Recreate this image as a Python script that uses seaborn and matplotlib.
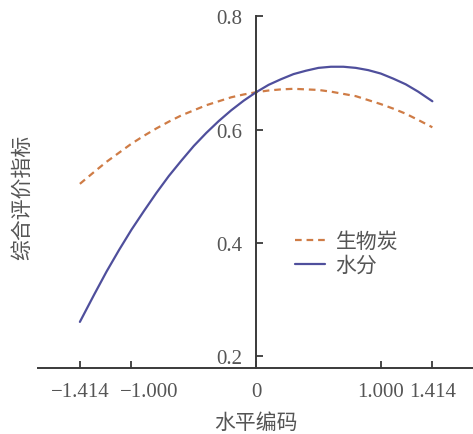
import pandas as pd
import seaborn as sns
import matplotlib.pyplot as plt
import matplotlib.transforms as mtransforms

# values
codes = [-1.414, -1.3, -1.2, -1.1, -1.0, -0.9, -0.8, -0.7, -0.6, -0.5, -0.4, -0.3, -0.2, -0.1, 0.0,
         0.1, 0.2, 0.3, 0.4, 0.5, 0.6, 0.7, 0.8, 0.9, 1.0, 1.1, 1.2, 1.3, 1.414]
biochar = [0.504, 0.525, 0.543, 0.559, 0.575, 0.589, 0.602, 0.614, 0.625, 0.634, 0.643, 0.650, 0.657, 0.662, 0.666,
           0.669, 0.671, 0.672, 0.671, 0.670, 0.667, 0.663, 0.659, 0.652, 0.645, 0.637, 0.628, 0.617, 0.604]
water = [0.260, 0.308, 0.349, 0.387, 0.423, 0.456, 0.488, 0.518, 0.545, 0.571, 0.594, 0.615, 0.634, 0.651, 0.666,
         0.679, 0.689, 0.698, 0.704, 0.709, 0.711, 0.711, 0.709, 0.705, 0.699, 0.690, 0.680, 0.667, 0.650]

xtick_vals = [-1.414, -1.0, 0, 1.0, 1.414]
xtick_labels = ['\u22121.414', '\u22121.000', '0', '1.000', '1.414']
ytick_vals = [0.2, 0.4, 0.6, 0.8]
ytick_labels = ['0.2', '0.4', '0.6', '0.8']

sns.set_style('ticks')
plt.rcParams['font.family'] = ['Noto Sans CJK SC', 'DejaVu Sans']

fig = plt.figure(figsize=(4.73, 4.35), dpi=100)
ax = fig.add_axes([38 / 473, 66 / 435, 435 / 473, 351.6 / 435])

df = pd.DataFrame({'x': codes, '生物炭': biochar, '水分': water})
sns.lineplot(data=df, x='x', y='生物炭', ax=ax, color='#cf7c46', lw=1.6,
             linestyle=(0, (3, 2.2)), label='生物炭')
sns.lineplot(data=df, x='x', y='水分', ax=ax, color='#4f4f9c', lw=1.6, label='水分')

ax.set_xlim(-1.75, 1.74)
ax.set_ylim(0.1785, 0.8)

ax.spines['left'].set_position(('data', 0))
ax.spines['right'].set_visible(False)
ax.spines['top'].set_visible(False)
for s in ['left', 'bottom']:
    ax.spines[s].set_color('#3a3a3a')
    ax.spines[s].set_linewidth(1.4)

ax.set_xticks(xtick_vals)
ax.set_xticklabels(xtick_labels, fontfamily='Liberation Serif', fontsize=15, color='#555555')
ax.set_yticks(ytick_vals)
ax.set_yticklabels(ytick_labels, fontfamily='Liberation Serif', fontsize=15, color='#555555')
ax.tick_params(axis='both', direction='in', length=5, width=1.3, color='#3a3a3a')
ax.tick_params(axis='x', pad=10)
ax.tick_params(axis='y', pad=10)

# the -1.000 label sits a bit to the right of its tick in the original
lbl = ax.get_xticklabels()[1]
lbl.set_transform(lbl.get_transform() + mtransforms.ScaledTranslation(18 / 100, 0, fig.dpi_scale_trans))

ax.set_xlabel('')
ax.set_ylabel('')
fig.text(22 / 473, 1 - 197 / 435, '综合评价指标', rotation=90, ha='center', va='center',
         fontsize=15, color='#555555')
fig.text(256 / 473, 1 - 423 / 435, '水平编码', ha='center', va='center',
         fontsize=15, color='#555555')

ax.legend(loc='upper left', bbox_to_anchor=(295 / 473, 1 - 231 / 435),
          bbox_transform=fig.transFigure, frameon=False, fontsize=15,
          borderpad=0, borderaxespad=0,
          handlelength=1.45, handletextpad=0.5, labelspacing=0.1, labelcolor='#555555')

fig.savefig('out.png', dpi=100)
